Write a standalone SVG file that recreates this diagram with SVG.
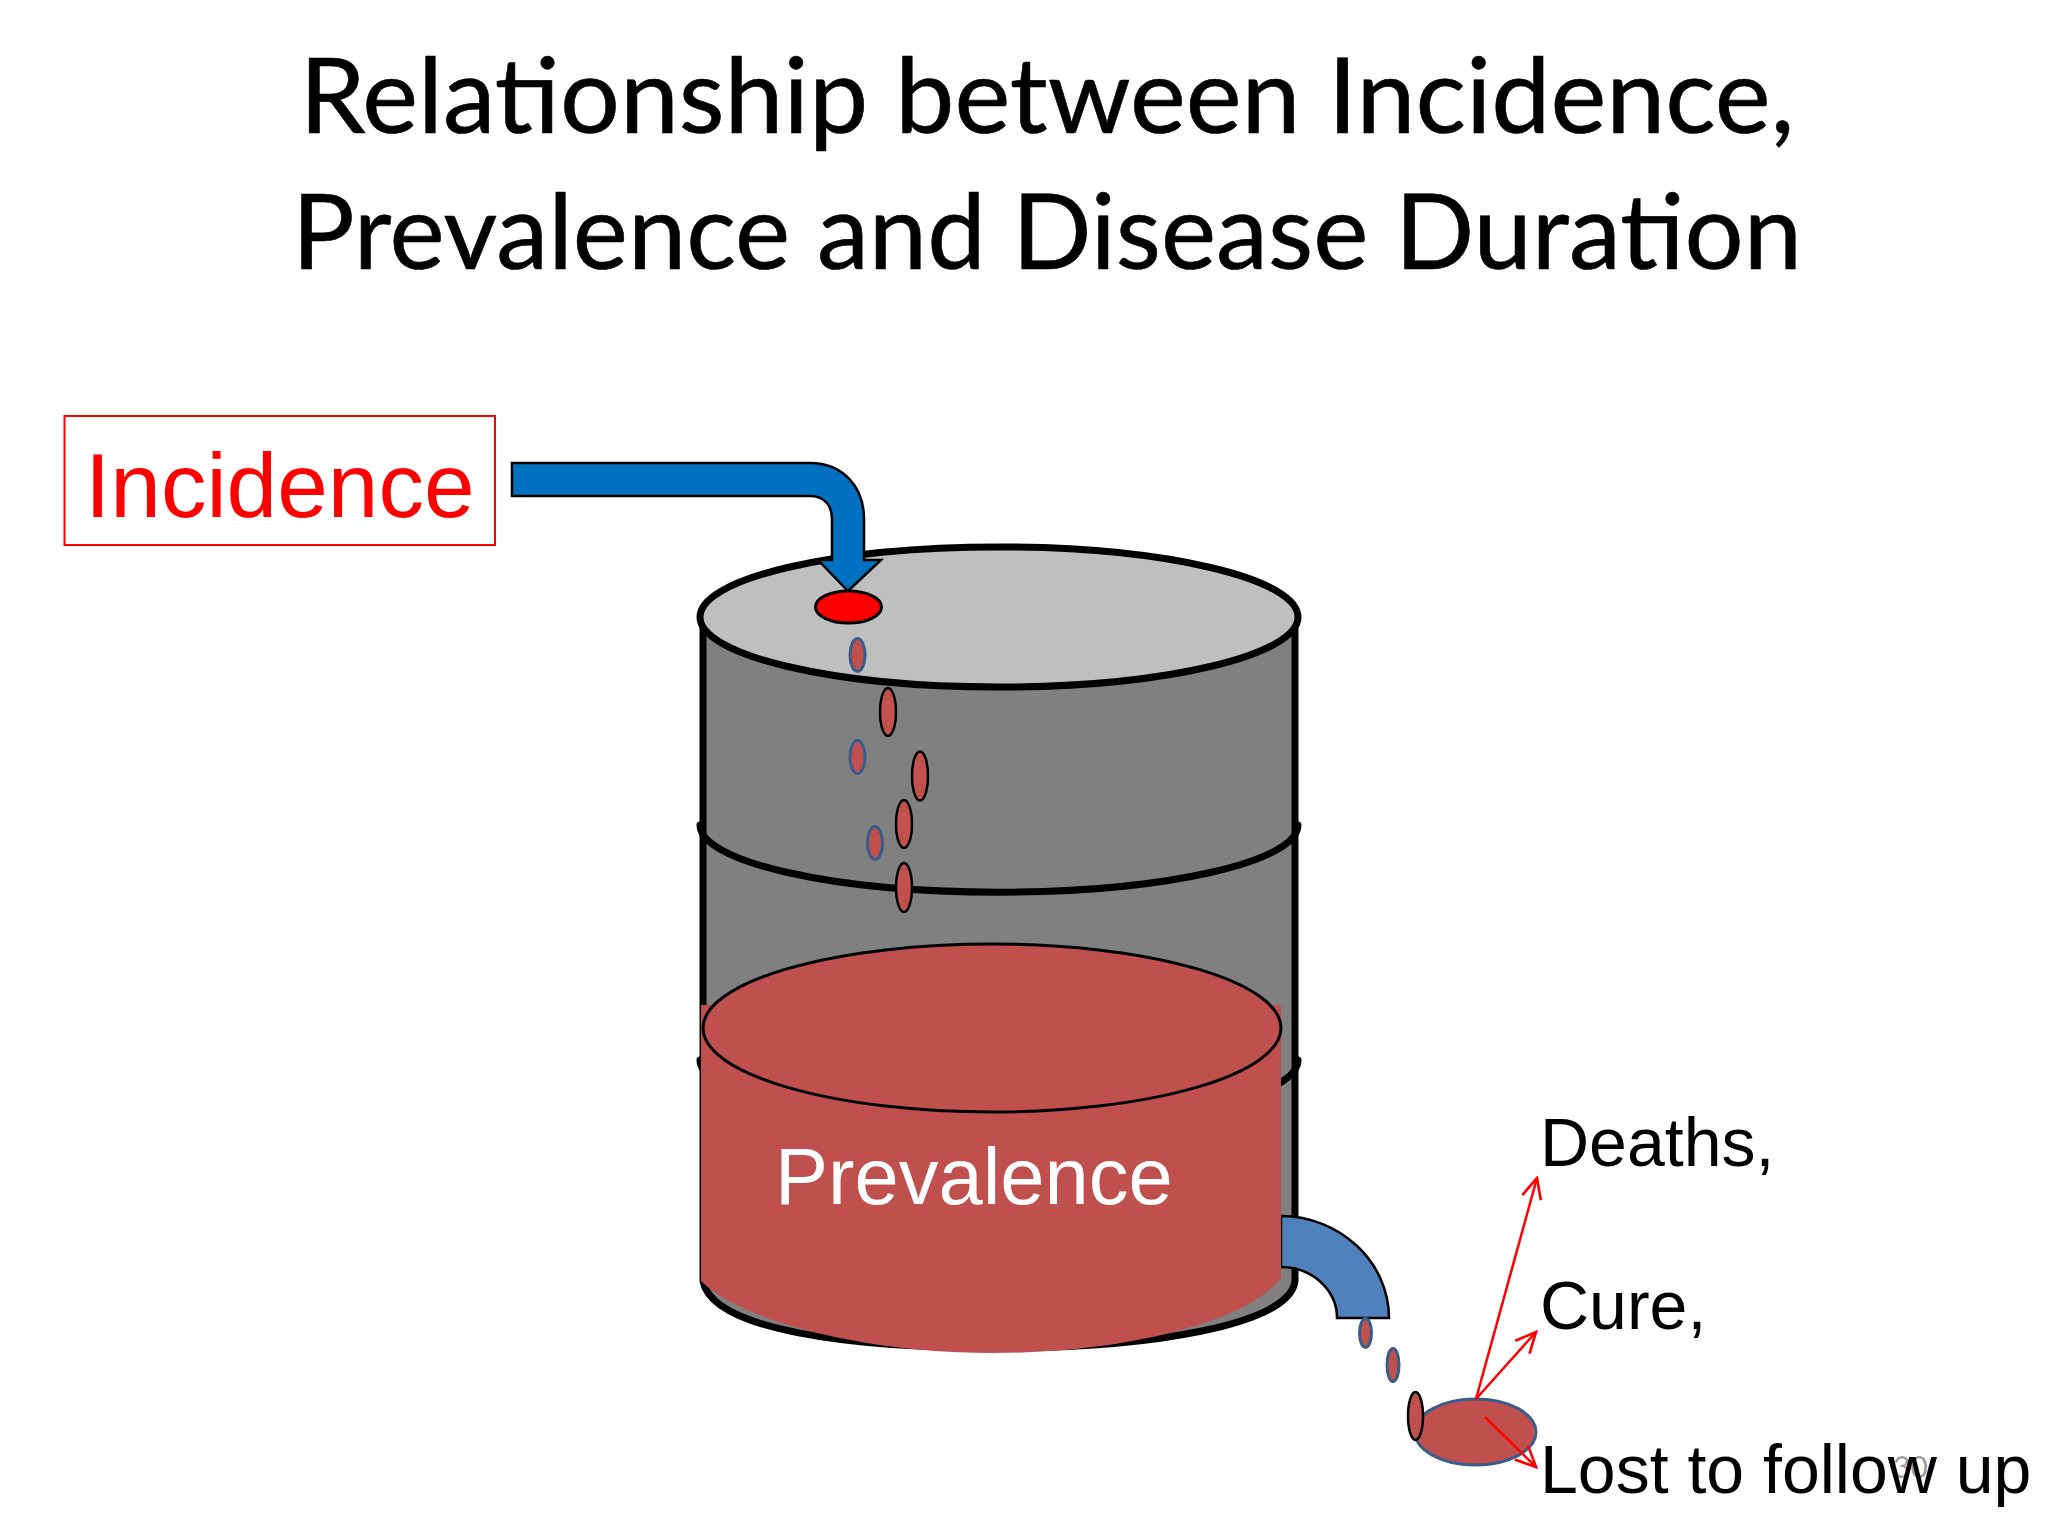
<svg xmlns="http://www.w3.org/2000/svg" width="2048" height="1536" viewBox="0 0 2048 1536">
<style>
text{font-family:"Liberation Sans",Arial,sans-serif}
.title{font-family:Lato,"Liberation Sans",sans-serif;font-size:104px;fill:#000;text-anchor:middle;stroke:#000;stroke-width:.6}
.lbl{font-size:68px;fill:#000}
.b{stroke:#000;stroke-width:7;stroke-linecap:round;fill:none}
.dk{fill:#c0504d;stroke:#000;stroke-width:2.5}
.db{fill:#c0504d;stroke:#385d8a;stroke-width:3}
.rl{stroke:#f00;stroke-width:2.5;fill:none;marker-end:url(#open)}
</style>
<defs>
<marker id="open" viewBox="0 0 20 20" refX="18" refY="10" markerWidth="24" markerHeight="24" markerUnits="userSpaceOnUse" orient="auto">
<path d="M1 2L18 10L1 18" fill="none" stroke="#f00" stroke-width="2.2"/>
</marker>
</defs>
<rect width="2048" height="1536" fill="#fff"/>
<g id="title">
<text class="title" x="1047" y="133" textLength="1495" lengthAdjust="spacingAndGlyphs">Relationship between Incidence,</text>
<text class="title" x="1047" y="269" textLength="1510" lengthAdjust="spacingAndGlyphs">Prevalence and Disease Duration</text>
</g>
<g id="incidence">
<rect x="64.500" y="416" width="430.500" height="129" fill="#fff" stroke="#f00" stroke-width="2"/>
<text x="85" y="517" font-size="91" fill="#f00">Incidence</text>
</g>
<g id="barrel">
<path d="M703 617V1281C712 1330 850 1348 1000 1348C1150 1348 1290 1325 1295 1281V617Z" fill="#808080" stroke="#000" stroke-width="7"/>
<path class="b" d="M700 825A298 67 0 0 0 1298 825"/>
<path class="b" d="M700 1060A298 67 0 0 0 1298 1060"/>
<ellipse cx="999" cy="617" rx="299" ry="70" fill="#bfbfbf" stroke="#000" stroke-width="7"/>
</g>
<g id="faucet">
<path d="M1281 1216C1340 1216 1389 1262 1389 1318H1337C1337 1290 1312 1267 1281 1267Z" fill="#4f81bd" stroke="#000" stroke-width="2.500"/>
</g>
<g id="prevalence">
<path d="M701 1005H1281V1278C1250 1320 1130 1353 992 1353C860 1353 740 1320 701 1281Z" fill="#c0504d"/>
<ellipse cx="992" cy="1028" rx="289" ry="84" fill="#c0504d" stroke="#000" stroke-width="3"/>
<text x="775" y="1204" font-size="79.500" fill="#fff">Prevalence</text>
</g>
<g id="inflow-arrow">
<path d="M512 463H810C842 463 864 486 864 519V560H881L848 591L818 560H832V519C832 505 824 496 810 496H512Z" fill="#0070c0" stroke="#000" stroke-width="2.500"/>
<ellipse cx="848.500" cy="607" rx="33" ry="16" fill="#f00" stroke="#000" stroke-width="3"/>
</g>
<g id="drops-in">
<ellipse class="db" cx="857.500" cy="655" rx="7.500" ry="16.500"/>
<ellipse class="dk" cx="888" cy="712" rx="8" ry="24"/>
<ellipse class="db" cx="857.500" cy="757" rx="7.500" ry="16.500"/>
<ellipse class="dk" cx="920" cy="776" rx="8" ry="24.500"/>
<ellipse class="dk" cx="904" cy="824" rx="8" ry="24"/>
<ellipse class="db" cx="875" cy="843" rx="7.500" ry="16.500"/>
<ellipse class="dk" cx="904" cy="887.500" rx="8" ry="24.500"/>
</g>
<g id="drops-out">
<ellipse class="db" cx="1365.500" cy="1333" rx="6" ry="14.500"/>
<ellipse class="db" cx="1393" cy="1365" rx="6" ry="16.500"/>
<ellipse class="db" cx="1475.500" cy="1432" rx="60.500" ry="33"/>
<ellipse class="dk" cx="1415.500" cy="1416" rx="7.500" ry="24"/>
</g>
<g id="page-number">
<text x="1893" y="1478" font-size="30" fill="#a0a0a0" style="font-family:Lato,sans-serif">30</text>
</g>
<g id="connectors">
<line class="rl" x1="1476" y1="1399" x2="1537" y2="1178"/>
<line class="rl" x1="1476" y1="1399" x2="1536" y2="1332"/>
<line class="rl" x1="1485" y1="1417" x2="1536" y2="1467"/>
</g>
<g id="outcomes">
<text class="lbl" x="1540" y="1166">Deaths,</text>
<text class="lbl" x="1540" y="1329">Cure,</text>
<text class="lbl" x="1540" y="1493">Lost to follow up</text>
</g>
</svg>
